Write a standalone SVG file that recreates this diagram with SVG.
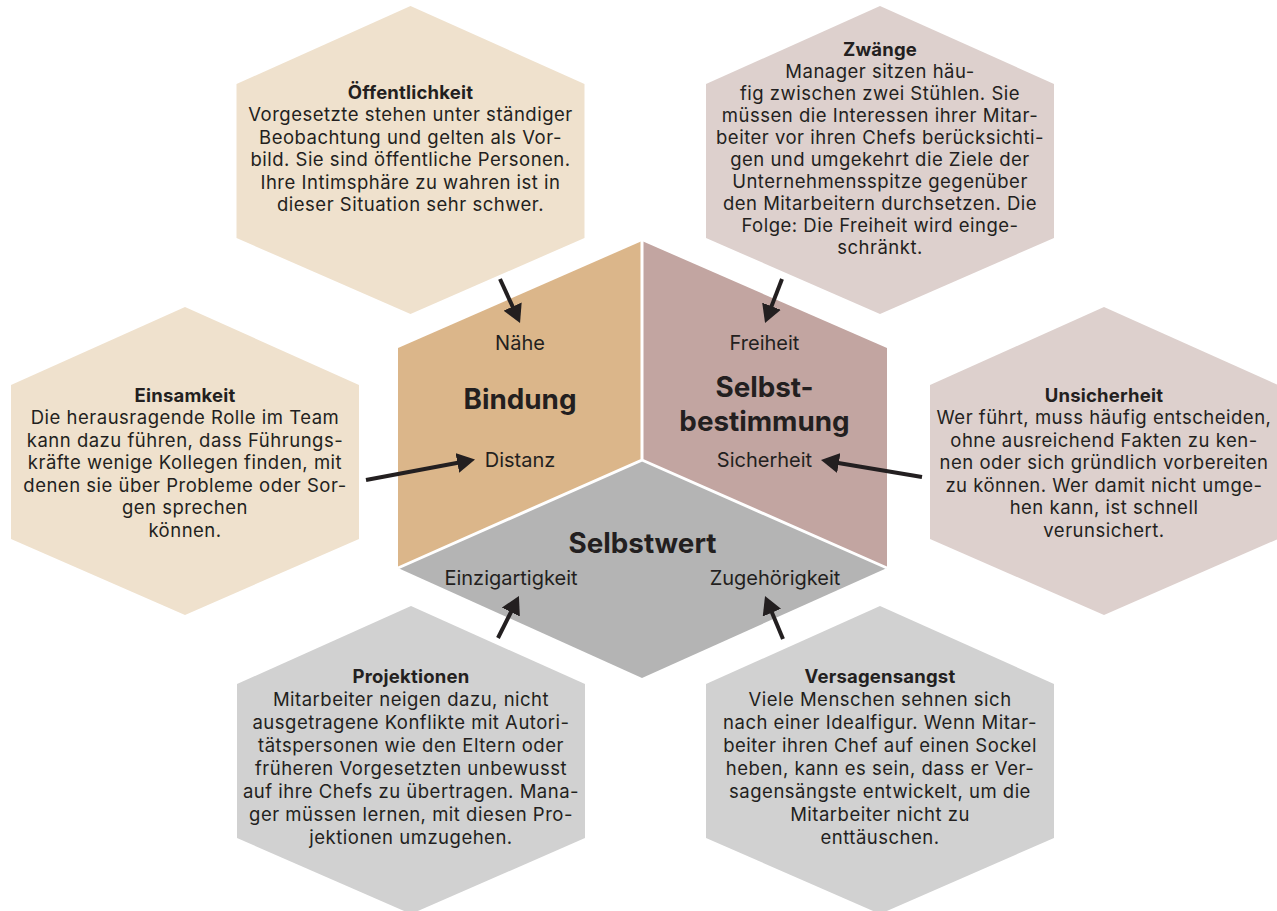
<svg xmlns="http://www.w3.org/2000/svg" width="1277" height="911" viewBox="0 0 1277 911">
<style>
.t{font-family:Inter,"Liberation Sans",sans-serif;fill:#231f20;text-anchor:middle}
.body{font-size:18.5px;letter-spacing:0.5px}
.ttl{font-size:18.5px;font-weight:700;letter-spacing:0.2px}
.lbl{font-size:20px}
.big{font-size:27.8px;font-weight:700}
.conn{stroke:#231f20;stroke-width:4;fill:none}
</style>
<defs>
<marker id="ah" markerUnits="userSpaceOnUse" markerWidth="18" markerHeight="20" refX="2" refY="10" orient="auto">
<path d="M0,0 L18,10 L0,20 Z" fill="#231f20"/>
</marker>
</defs>
<rect width="1277" height="911" fill="#ffffff"/>

<g id="center">
<polygon id="bindung-shape" points="642,241 398,348 398,568 642,460" fill="#dbb68a"/>
<polygon id="selbstbestimmung-shape" points="642,241 887,348 887,568 642,460" fill="#c2a5a1"/>
<polygon id="selbstwert-shape" points="642,460 398,568 642,678 887,568" fill="#b4b4b4"/>
<path d="M642,241 L642,460 L398,568 M642,460 L887,568" stroke="#ffffff" stroke-width="3" fill="none"/>
</g>

<g id="bindung">
<text class="t lbl" x="520" y="350">Nähe</text>
<text class="t big" x="520" y="409">Bindung</text>
<text class="t lbl" x="520" y="467">Distanz</text>
</g>
<g id="selbstbestimmung">
<text class="t lbl" x="764.5" y="350">Freiheit</text>
<text class="t big" x="764.5" y="397">Selbst-</text>
<text class="t big" x="764.5" y="431">bestimmung</text>
<text class="t lbl" x="764.5" y="467">Sicherheit</text>
</g>
<g id="selbstwert">
<text class="t big" x="642.5" y="553">Selbstwert</text>
<text class="t lbl" x="511" y="584.5">Einzigartigkeit</text>
<text class="t lbl" x="775" y="584.5">Zugehörigkeit</text>
</g>

<g id="oeffentlichkeit">
<polygon points="410.5,6 584.5,84 584.5,238 410.5,314 236.5,238 236.5,84" fill="#efe1cd"/>
<text class="t" x="410.5" y="98.5"><tspan class="ttl">Öffentlichkeit</tspan><tspan class="body" x="410.5" dy="22.5">Vorgesetzte stehen unter ständiger</tspan><tspan class="body" x="410.5" dy="22.5">Beobachtung und gelten als Vor-</tspan><tspan class="body" x="410.5" dy="22.5">bild. Sie sind öffentliche Personen.</tspan><tspan class="body" x="410.5" dy="22.5">Ihre Intimsphäre zu wahren ist in</tspan><tspan class="body" x="410.5" dy="22.5">dieser Situation sehr schwer.</tspan></text>
</g>

<g id="zwaenge">
<polygon points="880,6 1054,84 1054,238 880,314 706,238 706,84" fill="#ddd0cd"/>
<text class="t" x="880" y="55.5"><tspan class="ttl">Zwänge</tspan><tspan class="body" x="880" dy="22">Manager sitzen häu-</tspan><tspan class="body" x="880" dy="22">fig zwischen zwei Stühlen. Sie</tspan><tspan class="body" x="880" dy="22">müssen die Interessen ihrer Mitar-</tspan><tspan class="body" x="880" dy="22">beiter vor ihren Chefs berücksichti-</tspan><tspan class="body" x="880" dy="22">gen und umgekehrt die Ziele der</tspan><tspan class="body" x="880" dy="22">Unternehmensspitze gegenüber</tspan><tspan class="body" x="880" dy="22">den Mitarbeitern durchsetzen. Die</tspan><tspan class="body" x="880" dy="22">Folge: Die Freiheit wird einge-</tspan><tspan class="body" x="880" dy="22">schränkt.</tspan></text>
</g>

<g id="einsamkeit">
<polygon points="185,307 359,385 359,539 185,615 11,539 11,385" fill="#efe1cd"/>
<text class="t" x="185" y="401.5"><tspan class="ttl">Einsamkeit</tspan><tspan class="body" x="185" dy="22.5">Die herausragende Rolle im Team</tspan><tspan class="body" x="185" dy="22.5">kann dazu führen, dass Führungs-</tspan><tspan class="body" x="185" dy="22.5">kräfte wenige Kollegen finden, mit</tspan><tspan class="body" x="185" dy="22.5">denen sie über Probleme oder Sor-</tspan><tspan class="body" x="185" dy="22.5">gen sprechen</tspan><tspan class="body" x="185" dy="22.5">können.</tspan></text>
</g>

<g id="unsicherheit">
<polygon points="1104,307 1278,385 1278,539 1104,615 930,539 930,385" fill="#ddd0cd"/>
<text class="t" x="1104" y="401.5"><tspan class="ttl">Unsicherheit</tspan><tspan class="body" x="1104" dy="22.5">Wer führt, muss häufig entscheiden,</tspan><tspan class="body" x="1104" dy="22.5">ohne ausreichend Fakten zu ken-</tspan><tspan class="body" x="1104" dy="22.5">nen oder sich gründlich vorbereiten</tspan><tspan class="body" x="1104" dy="22.5">zu können. Wer damit nicht umge-</tspan><tspan class="body" x="1104" dy="22.5">hen kann, ist schnell</tspan><tspan class="body" x="1104" dy="22.5">verunsichert.</tspan></text>
</g>

<g id="projektionen">
<polygon points="411,606 585,684 585,838 411,914 237,838 237,684" fill="#d1d1d1"/>
<text class="t" x="411" y="682.5"><tspan class="ttl">Projektionen</tspan><tspan class="body" x="411" dy="23.1">Mitarbeiter neigen dazu, nicht</tspan><tspan class="body" x="411" dy="23.1">ausgetragene Konflikte mit Autori-</tspan><tspan class="body" x="411" dy="23.1">tätspersonen wie den Eltern oder</tspan><tspan class="body" x="411" dy="23.1">früheren Vorgesetzten unbewusst</tspan><tspan class="body" x="411" dy="23.1">auf ihre Chefs zu übertragen. Mana-</tspan><tspan class="body" x="411" dy="23.1">ger müssen lernen, mit diesen Pro-</tspan><tspan class="body" x="411" dy="23.1">jektionen umzugehen.</tspan></text>
</g>

<g id="versagensangst">
<polygon points="880,606 1054,684 1054,838 880,914 706,838 706,684" fill="#d1d1d1"/>
<text class="t" x="880" y="682.5"><tspan class="ttl">Versagensangst</tspan><tspan class="body" x="880" dy="23.1">Viele Menschen sehnen sich</tspan><tspan class="body" x="880" dy="23.1">nach einer Idealfigur. Wenn Mitar-</tspan><tspan class="body" x="880" dy="23.1">beiter ihren Chef auf einen Sockel</tspan><tspan class="body" x="880" dy="23.1">heben, kann es sein, dass er Ver-</tspan><tspan class="body" x="880" dy="23.1">sagensängste entwickelt, um die</tspan><tspan class="body" x="880" dy="23.1">Mitarbeiter nicht zu</tspan><tspan class="body" x="880" dy="23.1">enttäuschen.</tspan></text>
</g>

<g id="connectors">
<line class="conn" x1="500" y1="279" x2="513.4" y2="308.4" marker-end="url(#ah)"/>
<line class="conn" x1="782" y1="279" x2="770.8" y2="308.1" marker-end="url(#ah)"/>
<line class="conn" x1="366" y1="480" x2="459.3" y2="462.5" marker-end="url(#ah)"/>
<line class="conn" x1="922" y1="477" x2="836.8" y2="462.7" marker-end="url(#ah)"/>
<line class="conn" x1="498" y1="638" x2="511.8" y2="610.3" marker-end="url(#ah)"/>
<line class="conn" x1="783" y1="639" x2="771.2" y2="610.8" marker-end="url(#ah)"/>
</g>
</svg>
